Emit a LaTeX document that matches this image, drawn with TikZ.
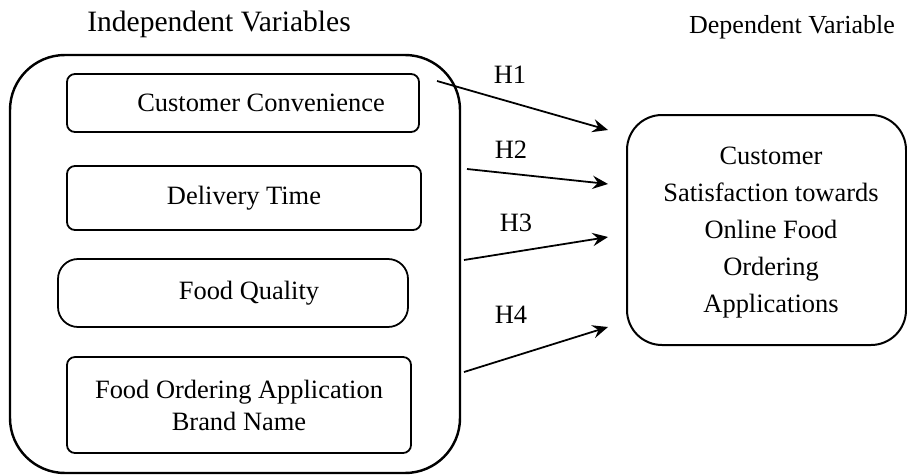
\documentclass[tikz,border=0pt]{standalone}
\usepackage{fontspec}
\setmainfont{Liberation Serif}
\usetikzlibrary{arrows.meta}
\begin{document}
\begin{tikzpicture}[x=0.45pt,y=-0.45pt,outer sep=0pt,font=\fontsize{11.9}{14.4}\selectfont]
\tikzstyle{bigbox} = [draw, line width=1.1pt, rectangle, rounded corners=24.75pt]
\tikzstyle{box} = [draw, line width=0.8pt, rectangle, rounded corners=3.6pt, align=center]
\tikzstyle{link} = [line width=0.8pt, -{Stealth[length=7pt,width=6pt,inset=2.5pt]}]
%
\useasboundingbox (0,0) rectangle (907,475);
\node[anchor=base, font=\fontsize{13.3}{16}\selectfont] (indep) at (219,32) {Independent Variables};
\node[anchor=base, font=\fontsize{11.7}{14}\selectfont] (dep) at (792,33) {Dependent Variable};
%
\node[bigbox, minimum width=202.5pt, minimum height=188.1pt] (iv) at (235,264) {};
\node[box, minimum width=158.4pt, minimum height=26.1pt] (conv) at (243,103) {\hspace*{16.2pt}Customer Convenience};
\node[box, minimum width=159.3pt, minimum height=28.8pt] (time) at (244,198) {Delivery Time};
\node[box, minimum width=157.5pt, minimum height=30.6pt, rounded corners=9pt] (qual) at (233,293) {\hspace*{14.4pt}Food Quality};
\node[box, minimum width=154.8pt, minimum height=43.2pt] (brand) at (239,405) {Food Ordering Application\\Brand Name};
%
\node[bigbox, line width=0.9pt, rounded corners=15.75pt, minimum width=125.55pt, minimum height=103.5pt, align=center,
  font=\fontsize{11.9}{16.65}\selectfont] (dv) at (766.5,230) {};
\node[align=center, font=\fontsize{11.9}{16.65}\selectfont] (dvtext) at (771,233)
  {Customer\\Satisfaction towards\\Online Food\\Ordering\\Applications};
%
\coordinate (s1) at (437,81);
\coordinate (s2) at (467,169);
\coordinate (s3) at (464,260);
\coordinate (s4) at (464,372);
\coordinate (e1) at (608,130);
\coordinate (e2) at (608,184);
\coordinate (e3) at (608,237);
\coordinate (e4) at (608,327);
\draw[link] (s1) -- (e1);
\draw[link] (s2) -- (e2);
\draw[link] (s3) -- (e3);
\draw[link] (s4) -- (e4);
\node (h1) at (510,75) {H1};
\node (h2) at (511,150) {H2};
\node (h3) at (516,223) {H3};
\node (h4) at (511,315) {H4};
\end{tikzpicture}
\end{document}
